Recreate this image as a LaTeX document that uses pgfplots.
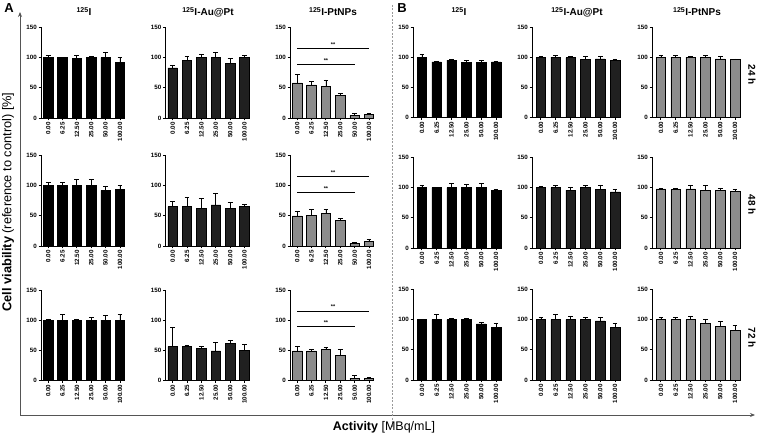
\documentclass[border=0pt]{standalone}
\usepackage{fontspec}
\setmainfont{Liberation Sans}
\usepackage{pgfplots}
\pgfplotsset{compat=1.18}
\usetikzlibrary{arrows.meta}
\definecolor{dkc}{HTML}{202020}
\definecolor{grc}{HTML}{8C8C8C}
\definecolor{framec}{HTML}{555555}
\definecolor{dashc}{HTML}{9A9A9A}
\pgfplotsset{
 panel/.style={scale only axis, height=90.5pt, ymin=0, ymax=150,
  ytick={0,50,100,150}, yticklabels={0,50,100,150},
  xtick={0,1,2,3,4,5}, xticklabels={0.00,6.25,12.50,25.00,50.00,100.00},
  axis x line=bottom, axis y line=left,
  axis line style={-, line width=0.9pt, black},
  tick style={line width=0.9pt, black}, tick align=outside, major tick length=2.5pt,
  ticklabel style={font=\bfseries\fontsize{6.2}{7}\selectfont},
  xticklabel style={rotate=90, anchor=east, inner sep=1.5pt},
  yticklabel style={inner sep=1.5pt},
  ybar, bar width=9.5pt, anchor=south west, clip=false},
 pA/.style={panel, width=84pt, xmin=-0.5, xmax=5.35},
 pB/.style={panel, width=89pt, xmin=-0.6, xmax=5.4},
 eb/.style={error bars/.cd, y dir=plus, y explicit,
  error bar style={line width=0.8pt, black},
  error mark options={rotate=90, line width=0.8pt, mark size=2.4pt, black}},
 bk/.style={fill=black, draw=black, line width=0.6pt, eb},
 dg/.style={fill=dkc, draw=black, line width=0.6pt, eb},
 lg/.style={fill=grc, draw=black, line width=0.6pt, eb},
}
\newcommand{\sig}{\draw[line width=0.6pt] (axis cs:0,89) -- (axis cs:4,89) node[midway, above=-1.5pt, font=\bfseries\fontsize{5.5}{5.5}\selectfont]{**};
 \draw[line width=0.6pt] (axis cs:0,115) -- (axis cs:5,115) node[midway, above=-1.5pt, font=\bfseries\fontsize{5.5}{5.5}\selectfont]{**};}
\begin{document}
\begin{tikzpicture}
\useasboundingbox (0pt,0pt) rectangle (760pt,435pt);
% frame arrows
\draw[framec, line width=0.9pt, -{Stealth[length=5pt,width=4pt]}] (20pt,20pt) -- (20pt,423pt);
\draw[framec, line width=0.9pt, -{Stealth[length=5pt,width=4pt]}] (20pt,20pt) -- (755pt,20pt);
\draw[dashc, line width=0.7pt, dash pattern=on 2pt off 1.5pt] (392pt,430pt) -- (392pt,7pt);
% ===== Row 1 (24 h) =====
\begin{axis}[pA, at={(41pt,317pt)}]
\addplot[bk] coordinates {(0,100) +- (0,3) (1,100) +- (0,1) (2,99) +- (0,4) (3,100) +- (0,2) (4,100) +- (0,8) (5,92) +- (0,8)};
\end{axis}
\begin{axis}[pA, at={(165.5pt,317pt)}]
\addplot[dg] coordinates {(0,83) +- (0,4) (1,95) +- (0,7) (2,100) +- (0,5) (3,100) +- (0,8) (4,90) +- (0,9) (5,100) +- (0,3)};
\end{axis}
\begin{axis}[pA, at={(290pt,317pt)}]
\addplot[lg] coordinates {(0,58) +- (0,14) (1,55) +- (0,5) (2,52) +- (0,11) (3,37) +- (0,3) (4,4.5) +- (0,3.5) (5,6) +- (0,1)};
\sig
\end{axis}
\begin{axis}[pB, at={(413pt,317.5pt)}]
\addplot[bk] coordinates {(0,100) +- (0,4) (1,92) +- (0,0.5) (2,95) +- (0,0.5) (3,91) +- (0,4) (4,91) +- (0,4) (5,92) +- (0,0.5)};
\end{axis}
\begin{axis}[pB, at={(532pt,317.5pt)}]
\addplot[dg] coordinates {(0,100) +- (0,1.5) (1,100) +- (0,3) (2,99) +- (0,2.5) (3,96) +- (0,4.5) (4,97) +- (0,3.5) (5,95) +- (0,2)};
\end{axis}
\begin{axis}[pB, at={(652pt,317.5pt)}]
\addplot[lg] coordinates {(0,100) +- (0,3) (1,100) +- (0,3) (2,100) +- (0,2) (3,100) +- (0,3) (4,97) +- (0,4.5) (5,96.5) +- (0,0.5)};
\end{axis}
% ===== Row 2 (48 h) =====
\begin{axis}[pA, at={(41pt,189pt)}]
\addplot[bk] coordinates {(0,100) +- (0,5) (1,100) +- (0,5) (2,100) +- (0,10) (3,100) +- (0,11) (4,92) +- (0,6) (5,94) +- (0,6)};
\end{axis}
\begin{axis}[pA, at={(165.5pt,189pt)}]
\addplot[dg] coordinates {(0,65) +- (0,9) (1,66) +- (0,14) (2,62) +- (0,17) (3,68) +- (0,19) (4,62) +- (0,10) (5,66) +- (0,3)};
\end{axis}
\begin{axis}[pA, at={(290pt,189pt)}]
\addplot[lg] coordinates {(0,50) +- (0,7) (1,51) +- (0,10) (2,54) +- (0,6.5) (3,42) +- (0,3.5) (4,4) +- (0,2.5) (5,7) +- (0,4)};
\sig
\end{axis}
\begin{axis}[pB, at={(413pt,187pt)}]
\addplot[bk] coordinates {(0,100) +- (0,3) (1,100) +- (0,1) (2,100) +- (0,7) (3,100) +- (0,5) (4,100) +- (0,6.5) (5,96) +- (0,1)};
\end{axis}
\begin{axis}[pB, at={(532pt,187pt)}]
\addplot[dg] coordinates {(0,100) +- (0,2.5) (1,100) +- (0,3) (2,96) +- (0,5) (3,100) +- (0,4) (4,97) +- (0,7.5) (5,93) +- (0,4.5)};
\end{axis}
\begin{axis}[pB, at={(652pt,187pt)}]
\addplot[lg] coordinates {(0,98) +- (0,1.5) (1,97) +- (0,1) (2,98) +- (0,5) (3,96) +- (0,7) (4,95) +- (0,4.5) (5,94) +- (0,3)};
\end{axis}
% ===== Row 3 (72 h) =====
\begin{axis}[pA, at={(41pt,54.5pt)}]
\addplot[bk] coordinates {(0,100) +- (0,2) (1,100) +- (0,10) (2,100) +- (0,2) (3,100) +- (0,4) (4,100) +- (0,8) (5,100) +- (0,10)};
\end{axis}
\begin{axis}[pA, at={(165.5pt,54.5pt)}]
\addplot[dg] coordinates {(0,56) +- (0,32) (1,56) +- (0,1.5) (2,53) +- (0,3) (3,49) +- (0,14) (4,61) +- (0,5) (5,50) +- (0,10)};
\end{axis}
\begin{axis}[pA, at={(290pt,54.5pt)}]
\addplot[lg] coordinates {(0,49) +- (0,7) (1,49) +- (0,3) (2,51) +- (0,4) (3,41) +- (0,10) (4,4) +- (0,5) (5,3.5) +- (0,1.5)};
\sig
\end{axis}
\begin{axis}[pB, at={(413pt,55pt)}]
\addplot[bk] coordinates {(0,100) +- (0,1) (1,100) +- (0,8) (2,100) +- (0,2) (3,100) +- (0,2) (4,93) +- (0,3) (5,87) +- (0,7)};
\end{axis}
\begin{axis}[pB, at={(532pt,55pt)}]
\addplot[dg] coordinates {(0,100) +- (0,3) (1,100) +- (0,9) (2,100) +- (0,5.5) (3,100) +- (0,4) (4,98) +- (0,5) (5,87) +- (0,6)};
\end{axis}
\begin{axis}[pB, at={(652pt,55pt)}]
\addplot[lg] coordinates {(0,100) +- (0,4) (1,100) +- (0,3) (2,100) +- (0,5.5) (3,94) +- (0,6) (4,89) +- (0,8) (5,82) +- (0,8)};
\end{axis}
% ===== texts =====
\begin{scope}[every node/.style={font=\bfseries\fontsize{10}{10}\selectfont, anchor=base, inner sep=0pt}]
\node at (84pt,419pt) {$^{\mathbf{125}}$I};
\node at (208pt,419pt) {$^{\mathbf{125}}$I-Au@Pt};
\node at (333pt,419pt) {$^{\mathbf{125}}$I-PtNPs};
\node at (459pt,419pt) {$^{\mathbf{125}}$I};
\node at (577pt,419pt) {$^{\mathbf{125}}$I-Au@Pt};
\node at (697pt,419pt) {$^{\mathbf{125}}$I-PtNPs};
\end{scope}
\node[font=\bfseries\fontsize{13}{13}\selectfont, inner sep=0pt] at (9pt,427pt) {A};
\node[font=\bfseries\fontsize{13}{13}\selectfont, inner sep=0pt] at (402pt,427pt) {B};
\node[rotate=-90, font=\bfseries\fontsize{10}{10}\selectfont, inner sep=0pt] at (752pt,360pt) {24 h};
\node[rotate=-90, font=\bfseries\fontsize{10}{10}\selectfont, inner sep=0pt] at (752pt,230pt) {48 h};
\node[rotate=-90, font=\bfseries\fontsize{10}{10}\selectfont, inner sep=0pt] at (752pt,97pt) {72 h};
\node[rotate=90, font=\fontsize{12.8}{13}\selectfont, inner sep=0pt] at (8pt,233pt) {\textbf{Cell viability} (reference to control) [\%]};
\node[font=\fontsize{12.5}{13}\selectfont, inner sep=0pt] at (384pt,8pt) {\textbf{Activity} [MBq/mL]};
\end{tikzpicture}
\end{document}
